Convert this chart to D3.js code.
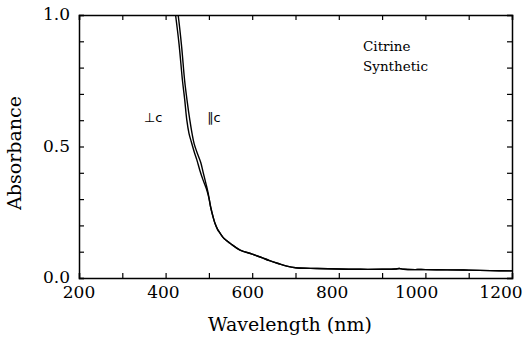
<!DOCTYPE html>
<html><head><meta charset="utf-8">
<script src="https://cdn.jsdelivr.net/npm/d3@7"></script>
<style>body{margin:0;background:#fff}</style>
</head><body><svg id="c" width="532" height="344"></svg>
<script>
const xTicks = [200, 400, 600, 800, 1000, 1200];
const yTicks = [0.0, 0.5, 1.0];
// perpendicular to c
const perpWl = [418,423,431,439,444,449,454,459,466,472,479,486,494,500,504,510,514,520,526,535,549,572,600,620,640,660,680,700,750,800,850,900,930,940,950,1000,1050,1100,1150,1200];
const perpAbs = [1.06,1.00,0.89,0.75,0.68,0.60,0.55,0.52,0.48,0.45,0.41,0.375,0.34,0.305,0.27,0.23,0.208,0.185,0.17,0.15,0.132,0.106,0.091,0.079,0.066,0.055,0.045,0.039,0.036,0.034,0.033,0.033,0.034,0.036,0.033,0.032,0.031,0.030,0.028,0.027];
// parallel to c
const parWl = [424,429,437,444,450,456,461,466,472,481,487,493,498,504,510,514,520,526,535,549,572,600,620,640,660,680,700,750,800,850,900,930,940,950,1000,1050,1100,1150,1200];
const parAbs = [1.06,1.00,0.88,0.75,0.67,0.60,0.55,0.51,0.48,0.44,0.40,0.36,0.325,0.27,0.23,0.208,0.185,0.17,0.15,0.132,0.106,0.091,0.079,0.066,0.055,0.045,0.039,0.036,0.034,0.033,0.033,0.034,0.036,0.033,0.032,0.031,0.030,0.028,0.027];

const L = 79, R = 512, T = 15, B = 278;
const x = d3.scaleLinear().domain([200, 1200]).range([L, R]);
// tick labels in the scanned figure sit slightly left of their ticks
const xLab = d3.scaleLinear().domain([200, 1200]).range([79, 501]);
const y = d3.scaleLinear().domain([0, 1]).range([B, T]);
const svg = d3.select('#c');
const serif = "DejaVu Serif";

svg.append('defs').append('clipPath').attr('id','clip').append('rect')
  .attr('x', L).attr('y', T).attr('width', R - L).attr('height', B - T);

const g = svg.append('g').attr('clip-path','url(#clip)');
[[perpWl, perpAbs], [parWl, parAbs]].forEach(([w, a]) => {
  g.append('path').datum(w.map((v, i) => [v, a[i]]))
    .attr('d', d3.line().x(d => x(d[0])).y(d => y(d[1])).curve(d3.curveCatmullRom))
    .attr('fill','none').attr('stroke','#000').attr('stroke-width',1.4);
});

const minorX = d3.range(200, 1201, 100);
const minorY = d3.range(0, 1.001, 0.1);
svg.append('g').attr('transform',`translate(0,${B})`)
  .call(d3.axisTop(x).tickValues(minorX).tickSize(5).tickFormat(''));
svg.append('g').attr('transform',`translate(0,${T})`)
  .call(d3.axisBottom(x).tickValues(minorX).tickSize(5).tickFormat(''));
svg.append('g').attr('transform',`translate(${L},0)`)
  .call(d3.axisRight(y).tickValues(minorY).tickSize(5).tickFormat(''));
svg.append('g').attr('transform',`translate(${R},0)`)
  .call(d3.axisLeft(y).tickValues(minorY).tickSize(5).tickFormat(''));
svg.selectAll('.domain').attr('stroke','#000').attr('stroke-width',1.5);
svg.selectAll('.tick line').attr('stroke','#000').attr('stroke-width',1.2);

svg.append('g').selectAll('text').data(xTicks).join('text')
  .attr('x', d => xLab(d)).attr('y', B + 20).attr('text-anchor','middle')
  .attr('font-family', serif).attr('font-size', 17).text(d => d);
svg.append('g').selectAll('text').data(yTicks).join('text')
  .attr('x', L - 9).attr('y', d => y(d) + 5).attr('text-anchor','end')
  .attr('font-family', serif).attr('font-size', 17).text(d => d.toFixed(1));

svg.append('text').attr('x', 290).attr('y', 331).attr('text-anchor','middle')
  .attr('font-family', serif).attr('font-size', 19).text('Wavelength (nm)');
svg.append('text').attr('transform',`translate(21,153) rotate(-90)`).attr('text-anchor','middle')
  .attr('font-family', serif).attr('font-size', 19).text('Absorbance');

svg.append('text').attr('x', 363).attr('y', 51).attr('font-family', serif).attr('font-size', 13.5).text('Citrine');
svg.append('text').attr('x', 363).attr('y', 71).attr('font-family', serif).attr('font-size', 13.5).text('Synthetic');

const sans = "DejaVu Sans";
svg.append('text').attr('x', 144).attr('y', 122).attr('font-family', sans).attr('font-size', 13).text('\u22A5c');
svg.append('text').attr('x', 207).attr('y', 122).attr('font-family', sans).attr('font-size', 13).text('\u2225c');
</script></body></html>
